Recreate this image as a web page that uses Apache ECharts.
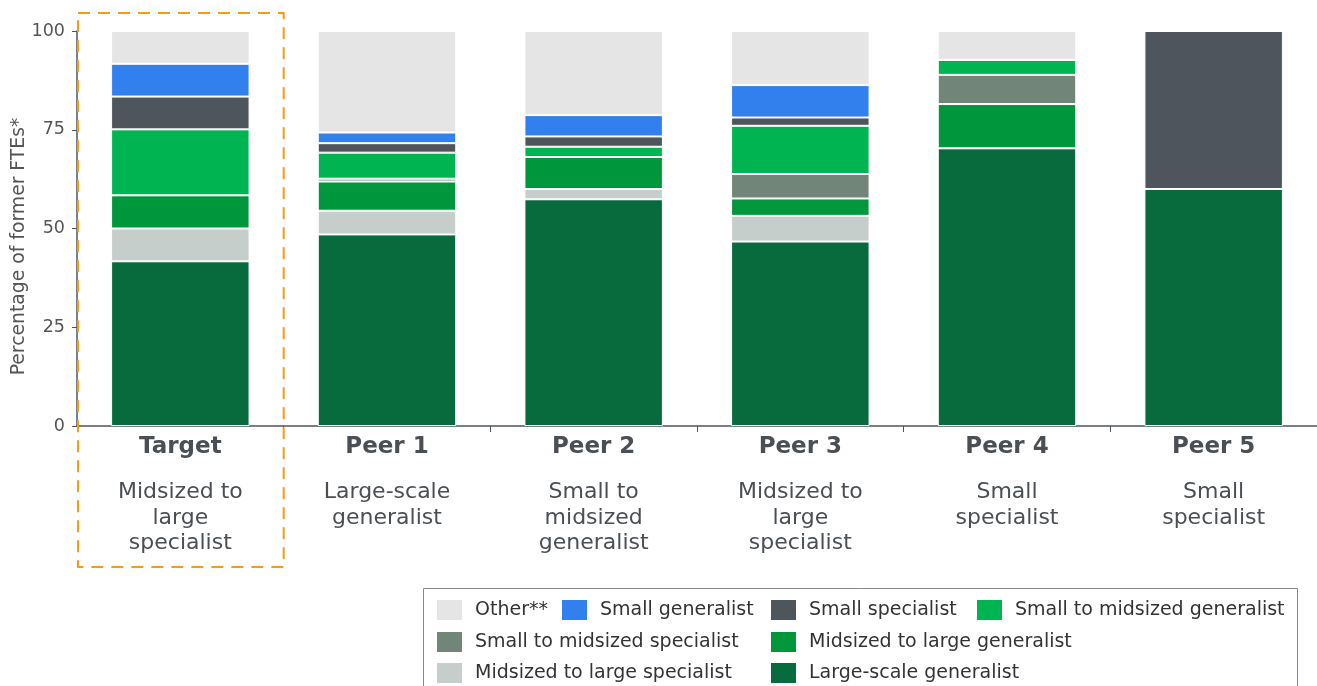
<!DOCTYPE html>
<html>
<head>
<meta charset="utf-8">
<script src="https://cdn.jsdelivr.net/npm/echarts@6/dist/echarts.min.js"></script>
<style>
  html, body { margin: 0; padding: 0; background: #fff; }
  #chart { width: 1317px; height: 686px; }
</style>
</head>
<body>
<div id="chart"></div>
<script>
// categories and their profile labels
const categories = ['Target', 'Peer 1', 'Peer 2', 'Peer 3', 'Peer 4', 'Peer 5']
const profiles = [
  'Midsized to\nlarge\nspecialist',
  'Large-scale\ngeneralist',
  'Small to\nmidsized\ngeneralist',
  'Midsized to\nlarge\nspecialist',
  'Small\nspecialist',
  'Small\nspecialist'
]
const yTicks = [0, 25, 50, 75, 100]

// series values (percentage of former FTEs), stacked bottom to top
const largeScaleGeneralist = [41.7, 48.5, 57.4, 46.7, 70.3, 60.0]
const midLargeSpecialist = [8.3, 6.0, 2.6, 6.5, 0, 0]
const midLargeGeneralist = [8.4, 7.4, 8.1, 4.4, 11.2, 0]
const smallMidSpecialist = [0, 0.7, 0, 6.2, 7.4, 0]
const smallMidGeneralist = [16.7, 6.6, 2.6, 12.2, 3.8, 0]
const smallSpecialist = [8.3, 2.4, 2.6, 2.1, 0, 40.0]
const smallGeneralist = [8.3, 2.7, 5.4, 8.2, 0, 0]
const other = [8.3, 25.7, 21.3, 13.7, 7.3, 0]

const seriesDefs = [
  { name: 'Large-scale generalist', data: largeScaleGeneralist, color: '#086b3d' },
  { name: 'Midsized to large specialist', data: midLargeSpecialist, color: '#c5cecb' },
  { name: 'Midsized to large generalist', data: midLargeGeneralist, color: '#00963c' },
  { name: 'Small to midsized specialist', data: smallMidSpecialist, color: '#718579' },
  { name: 'Small to midsized generalist', data: smallMidGeneralist, color: '#00b451' },
  { name: 'Small specialist', data: smallSpecialist, color: '#4e555c' },
  { name: 'Small generalist', data: smallGeneralist, color: '#3180ed' },
  { name: 'Other**', data: other, color: '#e5e5e5' }
]

// legend placement (one legend per entry)
const legendSlots = [
  { name: 'Other**', left: 435, top: 598 },
  { name: 'Small generalist', left: 560, top: 598 },
  { name: 'Small specialist', left: 769, top: 598 },
  { name: 'Small to midsized generalist', left: 975, top: 598 },
  { name: 'Small to midsized specialist', left: 435, top: 630 },
  { name: 'Midsized to large generalist', left: 769, top: 630 },
  { name: 'Midsized to large specialist', left: 435, top: 661 },
  { name: 'Large-scale generalist', left: 769, top: 661 }
]

const font = 'DejaVu Sans'
const chart = echarts.init(document.getElementById('chart'))

chart.setOption({
  animation: false,
  textStyle: { fontFamily: font },
  grid: { left: 77, right: 0, top: 31, bottom: 260, containLabel: false, outerBoundsMode: 'none' },
  legend: legendSlots.map(s => ({
    data: [s.name],
    left: s.left,
    top: s.top,
    padding: 0,
    itemWidth: 27,
    itemHeight: 22,
    icon: 'rect',
    selectedMode: false,
    textStyle: { fontFamily: font, fontSize: 19, color: '#333', padding: [0, 0, 0, 7] }
  })),
  xAxis: {
    type: 'category',
    data: categories,
    axisLine: { lineStyle: { color: '#4e555c', width: 1.5 } },
    axisTick: { show: true, length: 6, lineStyle: { color: '#4e555c' } },
    axisLabel: {
      margin: 8,
      interval: 0,
      formatter: (v, i) => '{a|' + v + '}\n{g| }\n' + profiles[i].split('\n').map(l => '{b|' + l + '}').join('\n'),
      rich: {
        a: { fontFamily: font, fontSize: 23, fontWeight: 'bold', color: '#4a4f55', lineHeight: 26 },
        g: { fontSize: 10, lineHeight: 20 },
        b: { fontFamily: font, fontSize: 22, color: '#4a4f55', lineHeight: 25.5 }
      }
    }
  },
  yAxis: {
    type: 'value',
    min: 0,
    max: 100,
    interval: 25,
    name: 'Percentage of former FTEs*',
    nameLocation: 'middle',
    nameGap: 48,
    nameMoveOverlap: false,
    nameTextStyle: { fontFamily: font, fontSize: 18.8, color: '#555', padding: [0, 0, 0, -36] },
    axisLine: { show: true, lineStyle: { color: '#4e555c', width: 1.5 } },
    axisTick: { show: true, length: 5, lineStyle: { color: '#4e555c' } },
    splitLine: { show: false },
    axisLabel: {
      margin: 12,
      fontFamily: font,
      fontSize: 17.5,
      color: '#555',
      formatter: v => (yTicks.indexOf(v) >= 0 ? String(v) : '')
    }
  },
  series: seriesDefs.map(s => ({
    name: s.name,
    type: 'bar',
    stack: 'total',
    barCategoryGap: '33%',
    data: s.data,
    itemStyle: { color: s.color, borderColor: '#fff', borderWidth: 1 }
  }))
})

// highlight box around Target and legend frame
const cx = chart.convertToPixel({ xAxisIndex: 0 }, 0)
const cx1 = chart.convertToPixel({ xAxisIndex: 0 }, 1)
const half = (cx1 - cx) / 2
chart.setOption({
  graphic: [
    {
      type: 'rect',
      shape: { x: cx - half + 1, y: 13, width: half * 2 - 1, height: 554 },
      style: { fill: 'none', stroke: '#f59c14', lineWidth: 2, lineDash: [12, 8] },
      z: 10
    },
    {
      type: 'rect',
      shape: { x: 423.5, y: 588.5, width: 874, height: 130 },
      style: { fill: 'none', stroke: '#888', lineWidth: 1 },
      z: 1
    }
  ]
})
</script>
</body>
</html>
